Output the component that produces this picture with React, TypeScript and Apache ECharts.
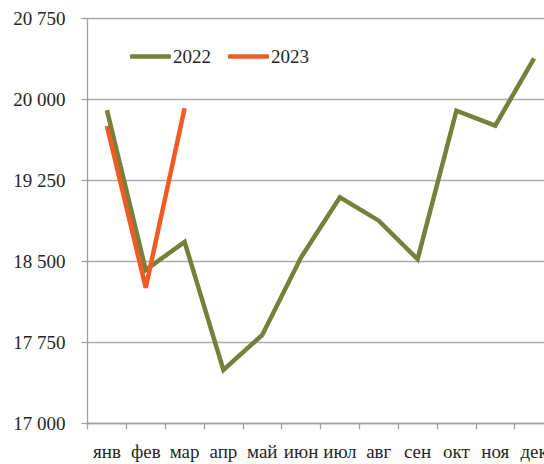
import React, { useEffect, useRef } from "react";
import * as echarts from "echarts";

const months = ["янв", "фев", "мар", "апр", "май", "июн", "июл", "авг", "сен", "окт", "ноя", "дек"];
const values2022 = [19900, 18420, 18680, 17495, 17818, 18537, 19093, 18876, 18519, 19895, 19756, 20380];
const values2023 = [19753, 18256, 19917];
const seriesNames = ["2022", "2023"];
const yMin = 17000;
const yMax = 20750;
const yStep = 750;

const fmt = (v: number) => {
  const s = String(Math.round(v));
  return s.replace(/\B(?=(\d{3})+(?!\d))/g, " ");
};

export default function App() {
  const ref = useRef<HTMLDivElement>(null);
  useEffect(() => {
    if (!ref.current) return;
    const chart = echarts.init(ref.current, null, { renderer: "svg" });
    const font = "\"Liberation Serif\", \"DejaVu Serif\", serif";
    chart.setOption({
      animation: false,
      backgroundColor: "#ffffff",
      textStyle: { fontFamily: font },
      legend: {
        left: 125,
        top: 42,
        icon: "roundRect",
        itemWidth: 41,
        itemHeight: 4.5,
        itemGap: 17,
        textStyle: { fontFamily: font, fontSize: 19, color: "#262626", padding: [0, 0, 0, -3] },
        data: seriesNames,
      },
      grid: { left: 87.5, top: 18.3, width: 466, height: 405, containLabel: false },
      xAxis: {
        type: "category",
        data: months,
        boundaryGap: true,
        axisLine: { show: true, lineStyle: { color: "#A0A0A0", width: 1.3 } },
        axisTick: { show: true, length: 6, lineStyle: { color: "#A0A0A0", width: 1.3 } },
        axisLabel: { fontFamily: font, fontSize: 19, color: "#262626", margin: 19, interval: 0 },
        splitLine: { show: false },
      },
      yAxis: {
        type: "value",
        min: yMin,
        max: yMax,
        interval: yStep,
        axisLine: { show: true, lineStyle: { color: "#A0A0A0", width: 1.3 } },
        axisTick: { show: true, length: 6, lineStyle: { color: "#A0A0A0", width: 1.3 } },
        axisLabel: { fontFamily: font, fontSize: 19, color: "#262626", margin: 22, formatter: fmt },
        splitLine: { show: true, lineStyle: { color: "#ABABAB", width: 1.3 } },
      },
      series: [
        {
          name: seriesNames[0],
          type: "line",
          data: values2022,
          symbol: "none",
          lineStyle: { color: "#77803A", width: 4.5, join: "miter" },
          itemStyle: { color: "#77803A" },
        },
        {
          name: seriesNames[1],
          type: "line",
          data: values2023,
          symbol: "none",
          lineStyle: { color: "#F15A22", width: 4.5, join: "miter" },
          itemStyle: { color: "#F15A22" },
        },
      ],
    });
    return () => chart.dispose();
  }, []);
  return (
    <div
      style={{ position: "fixed", left: 0, top: 0, width: 544, height: 464, overflow: "hidden", background: "#fff" }}
    >
      <div ref={ref} style={{ width: 566, height: 464 }} />
    </div>
  );
}
